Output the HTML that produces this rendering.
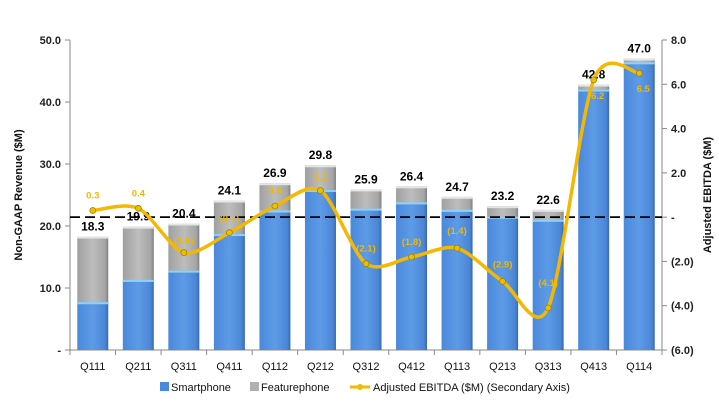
<!DOCTYPE html>
<html><head><meta charset="utf-8"><style>
html,body{margin:0;padding:0;background:#fff;}
svg text{font-family:"Liberation Sans",sans-serif;}
</style></head><body>
<svg id="c" width="719" height="404" xmlns="http://www.w3.org/2000/svg">
<defs>
<linearGradient id="gb" x1="0" x2="1"><stop offset="0" stop-color="#4a88dc"/><stop offset="0.5" stop-color="#5e9be6"/><stop offset="0.9" stop-color="#4a86d6"/><stop offset="1" stop-color="#3a68a8"/></linearGradient>
<linearGradient id="gg" x1="0" x2="1"><stop offset="0" stop-color="#a0a0a0"/><stop offset="0.5" stop-color="#bdbdbd"/><stop offset="0.9" stop-color="#a5a5a5"/><stop offset="1" stop-color="#808080"/></linearGradient>
</defs>
</svg>
<script>
const s=document.getElementById('c');let h='';
const L=70,R=662,T=40,B=350;
const yl=v=>B-v*(B-T)/50, yr=v=>T+(8-v)*(B-T)/14;
const cats=['Q111','Q211','Q311','Q411','Q112','Q212','Q312','Q412','Q113','Q213','Q313','Q413','Q114'];
const tot=[18.3,19.9,20.4,24.1,26.9,29.8,25.9,26.4,24.7,23.2,22.6,42.8,47.0];
const sm=[7.7,11.3,12.8,18.7,22.5,25.8,22.8,23.8,22.6,21.5,21.0,42.0,46.4];
const eb=[0.3,0.4,-1.6,-0.7,0.5,1.2,-2.1,-1.8,-1.4,-2.9,-4.1,6.2,6.5];
const w=(R-L)/13;const cx=i=>L+w*(i+0.5);
h+=`<line x1="${L}" y1="${T}" x2="${L}" y2="${B}" stroke="#888"/>`;
h+=`<line x1="${R}" y1="${T}" x2="${R}" y2="${B}" stroke="#888"/>`;
h+=`<line x1="${L}" y1="${B}" x2="${R}" y2="${B}" stroke="#888"/>`;
for(let v=0;v<=50;v+=10){const y=yl(v);h+=`<line x1="${L-5}" y1="${y}" x2="${L}" y2="${y}" stroke="#888"/><text x="${L-9}" y="${y+4}" font-size="11" font-weight="bold" fill="#222" text-anchor="end">${v?v.toFixed(1):'-'}</text>`;}
for(let v=-6;v<=8;v+=2){const y=yr(v);const t=v==0?'-':v<0?'('+(-v).toFixed(1)+')':v.toFixed(1);h+=`<line x1="${R}" y1="${y}" x2="${R+5}" y2="${y}" stroke="#888"/><text x="${R+9}" y="${y+4}" font-size="11" font-weight="bold" fill="#222">${t}</text>`;}
for(let i=0;i<=13;i++){const x=L+w*i;h+=`<line x1="${x}" y1="${B}" x2="${x}" y2="${B+5}" stroke="#888"/>`;}
h+=`<text transform="translate(22,195) rotate(-90)" font-size="11" font-weight="bold" text-anchor="middle" fill="#111">Non-GAAP Revenue ($M)</text>`;
h+=`<text transform="translate(711,195) rotate(-90)" font-size="11" font-weight="bold" text-anchor="middle" fill="#111">Adjusted EBITDA ($M)</text>`;
const bw=31;
cats.forEach((c,i)=>{const x=cx(i)-bw/2;
h+=`<rect x="${x}" y="${yl(tot[i])}" width="${bw}" height="${yl(sm[i])-yl(tot[i])}" fill="url(#gg)"/>`;
h+=`<rect x="${x}" y="${yl(tot[i])}" width="${bw}" height="2" fill="#e4e4e4"/>`;
h+=`<rect x="${x}" y="${yl(sm[i])}" width="${bw}" height="${B-yl(sm[i])}" fill="url(#gb)"/>`;
h+=`<rect x="${x}" y="${yl(sm[i])}" width="${bw}" height="2" fill="#8fd0f5"/>`;
h+=`<text x="${cx(i)}" y="${yl(tot[i])-6}" font-size="12" font-weight="bold" text-anchor="middle" fill="#000">${tot[i].toFixed(1)}</text>`;
h+=`<text x="${cx(i)}" y="${B+20}" font-size="11" text-anchor="middle" fill="#111">${c}</text>`;});
h+=`<line x1="${L}" y1="${yr(0)}" x2="${R}" y2="${yr(0)}" stroke="#000" stroke-width="1.8" stroke-dasharray="10,5"/>`;
const P=eb.map((v,i)=>[cx(i),yr(v)]);
let d=`M${P[0][0]},${P[0][1]}`;const k=7;
for(let i=0;i<P.length-1;i++){const p0=P[Math.max(i-1,0)],p1=P[i],p2=P[i+1],p3=P[Math.min(i+2,P.length-1)];
d+=` C${p1[0]+(p2[0]-p0[0])/k},${p1[1]+(p2[1]-p0[1])/k} ${p2[0]-(p3[0]-p1[0])/k},${p2[1]-(p3[1]-p1[1])/k} ${p2[0]},${p2[1]}`;}
h+=`<path d="${d}" fill="none" stroke="#f5b800" stroke-width="3.5"/>`;
const lo=[[0,-12],[0,-12],[0,-9],[0,-11],[0,-12],[0,-10],[0,-12],[0,-12],[0,-14],[0,-14],[0,-22],[4,19],[4,19]];
P.forEach((p,i)=>{h+=`<circle cx="${p[0]}" cy="${p[1]}" r="3" fill="#e8c000" stroke="#9a7a00" stroke-width="0.7"/>`;
const v=eb[i];const t=v<0?'('+(-v).toFixed(1)+')':v.toFixed(1);
h+=`<text x="${p[0]+lo[i][0]}" y="${p[1]+lo[i][1]}" font-size="9.5" font-weight="bold" text-anchor="middle" fill="#f0b800">${t}</text>`;});
h+=`<rect x="160" y="382" width="9" height="9" fill="#4a8ade"/><text x="171" y="391" font-size="11" fill="#111">Smartphone</text>`;
h+=`<rect x="250" y="382" width="9" height="9" fill="#b0b0b0"/><text x="261" y="391" font-size="11" fill="#111">Featurephone</text>`;
h+=`<line x1="350" y1="387" x2="370" y2="387" stroke="#f5b800" stroke-width="3"/><circle cx="360" cy="387" r="3" fill="#e8c000"/><text x="373" y="391" font-size="11" fill="#111">Adjusted EBITDA ($M) (Secondary Axis)</text>`;
s.innerHTML+=h;
</script>
</body></html>
